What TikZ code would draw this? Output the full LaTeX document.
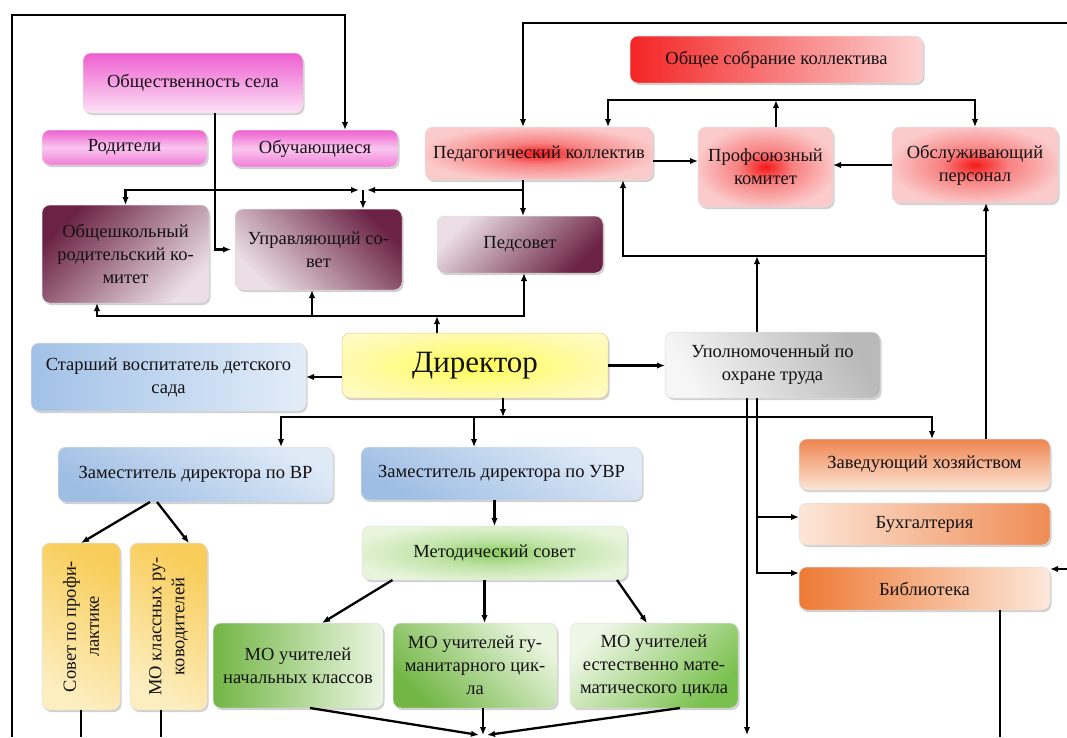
\documentclass[tikz,border=0pt]{standalone}
\usepackage{fontspec}
\setmainfont{Liberation Serif}
\usetikzlibrary{arrows.meta,shadows,calc}
\definecolor{txt}{HTML}{141214}
\definecolor{pkD}{HTML}{EE5FD0}
\definecolor{pkL}{HTML}{FDE2F6}
\definecolor{pkM}{HTML}{F9C6EE}
\definecolor{mrD}{HTML}{6B2244}
\definecolor{mrL}{HTML}{EBDEE4}
\definecolor{rRed}{HTML}{F42424}
\definecolor{rLight}{HTML}{FDD3D3}
\definecolor{rcore}{HTML}{F41818}
\definecolor{rmid}{HTML}{F88080}
\definecolor{rbg}{HTML}{FBCACA}
\definecolor{ycore}{HTML}{FFFF55}
\definecolor{ymid}{HTML}{FFFAA8}
\definecolor{ybg}{HTML}{FFFDE6}
\definecolor{gcore}{HTML}{8CCD5F}
\definecolor{gmid}{HTML}{BFE3A6}
\definecolor{gbg}{HTML}{E8F5DC}
\pgfdeclareradialshading{redglow}{\pgfpoint{0bp}{0bp}}{color(0bp)=(rcore);color(10bp)=(rmid);color(26bp)=(rbg);color(50bp)=(rbg)}
\pgfdeclareradialshading{yellowglow}{\pgfpoint{0bp}{0bp}}{color(0bp)=(ycore);color(22bp)=(ymid);color(45bp)=(ybg);color(50bp)=(ybg)}
\pgfdeclareradialshading{greenglow}{\pgfpoint{0bp}{0bp}}{color(0bp)=(gcore);color(12bp)=(gmid);color(28bp)=(gbg);color(50bp)=(gbg)}
\tikzset{
  box/.style={rounded corners=8pt, align=center, inner sep=2pt, outer sep=0pt,
    font=\fontsize{18.5}{23}\selectfont, text=txt, draw=black!12, line width=0.5pt,
    drop shadow={shadow xshift=1.5pt,shadow yshift=-2pt,opacity=0.3,fill=black!60}},
  pinkA/.style={top color=pkD, bottom color=pkL},
  pinkB/.style={top color=pkD, bottom color=pkD!80!white, middle color=pkM},
  maroonA/.style={top color=mrD, bottom color=mrL, shading angle=45},
  maroonB/.style={top color=mrD, bottom color=mrL, shading angle=-45},
  maroonC/.style={top color=mrL, bottom color=mrD, shading angle=45},
  redL/.style={left color=rRed, right color=rLight},
  redG/.style={shading=redglow},
  dirbox/.style={shading=yellowglow, draw={rgb,255:red,231;green,201;blue,142}},
  blueA/.style={left color={rgb,255:red,162;green,193;blue,231}, right color={rgb,255:red,227;green,237;blue,249}},
  blueB/.style={top color={rgb,255:red,223;green,234;blue,247}, bottom color={rgb,255:red,159;green,190;blue,228}, shading angle=-30},
  grayA/.style={top color={rgb,255:red,185;green,185;blue,185}, bottom color={rgb,255:red,246;green,246;blue,246}, shading angle=-60},
  orA/.style={top color={rgb,255:red,238;green,133;blue,80}, bottom color={rgb,255:red,253;green,229;blue,214}},
  orB/.style={left color={rgb,255:red,253;green,230;blue,216}, right color={rgb,255:red,239;green,140;blue,85}},
  orC/.style={left color={rgb,255:red,238;green,122;blue,53}, right color={rgb,255:red,253;green,232;blue,219}},
  greenG/.style={shading=greenglow},
  grA/.style={left color={rgb,255:red,114;green,182;blue,69}, right color={rgb,255:red,236;green,246;blue,227}},
  grB/.style={top color={rgb,255:red,233;green,245;blue,222}, bottom color={rgb,255:red,114;green,182;blue,69}, shading angle=-45},
  grC/.style={top color={rgb,255:red,238;green,247;blue,230}, bottom color={rgb,255:red,122;green,192;blue,78}, shading angle=45},
  yelA/.style={top color={rgb,255:red,248;green,205;blue,90}, bottom color={rgb,255:red,253;green,238;blue,192}, shading angle=-30},
  vtext/.style={rotate=90, align=center, font=\fontsize{18.5}{23}\selectfont, text=txt, inner sep=0pt},
  conn/.style={line width=2.3pt, black},
  arr/.style={conn, -{Latex[length=8pt,width=6.5pt]}},
  arrboth/.style={conn, {Latex[length=8pt,width=6.5pt]}-{Latex[length=8pt,width=6.5pt]}}
}
\begin{document}
\begin{tikzpicture}[x=1pt,y=-1pt]
\fill[white] (0,0) rectangle (1067,737);
\useasboundingbox (0,0) rectangle (1067,737);
% boxes
\node[box,pinkA,minimum width=220,minimum height=60] (obsh) at (193,83) {Общественность села};
\node[box,pinkB,minimum width=165,minimum height=35] (rod) at (124.5,147.5) {Родители};
\node[box,pinkB,minimum width=166,minimum height=37] (obuch) at (315,148.5) {Обучающиеся};
\node[box,maroonA,minimum width=167,minimum height=98] (okom) at (125.5,254) {Общешкольный\\родительский ко-\\митет};
\node[box,maroonB,minimum width=167,minimum height=81] (usov) at (318.5,249.5) {Управляющий со-\\вет};
\node[box,maroonC,minimum width=166,minimum height=57] (pedsov) at (520,244.5) {Педсовет};
\node[box,redL,minimum width=293,minimum height=47] (sobr) at (776.5,59.5) {Общее собрание коллектива};
\node[box,redG,minimum width=228,minimum height=53] (pedk) at (539,153.5) {Педагогический коллектив};
\node[box,redG,minimum width=135,minimum height=80] (prof) at (765.5,167) {Профсоюзный\\комитет};
\node[box,redG,minimum width=166,minimum height=76] (obsl) at (975,165) {Обслуживающий\\персонал};
\node[box,dirbox,minimum width=266,minimum height=65,font=\fontsize{31}{34}\selectfont] (dir) at (475,365.5) {Директор};
\node[box,blueA,minimum width=275,minimum height=68] (star) at (168.5,377) {Старший воспитатель детского\\сада};
\node[box,grayA,minimum width=215,minimum height=66] (upol) at (772.5,365) {Уполномоченный по\\охране труда};
\node[box,blueB,minimum width=275,minimum height=55] (zvr) at (195.5,474.5) {Заместитель директора по ВР};
\node[box,blueB,minimum width=281,minimum height=53] (zuvr) at (501.5,473.5) {Заместитель директора по УВР};
\node[box,orA,minimum width=251,minimum height=51] (zav) at (924.5,464.5) {Заведующий хозяйством};
\node[box,orB,minimum width=251,minimum height=42] (buh) at (924.5,524) {Бухгалтерия};
\node[box,orC,minimum width=251,minimum height=43] (bib) at (924.5,588.5) {Библиотека};
\node[box,greenG,minimum width=265,minimum height=54] (met) at (494.5,553) {Методический совет};
\node[box,grA,minimum width=170,minimum height=85] (mo1) at (298,665.5) {МО учителей\\начальных классов};
\node[box,grB,minimum width=164,minimum height=85] (mo2) at (475,665.5) {МО учителей гу-\\манитарного цик-\\ла};
\node[box,grC,minimum width=168,minimum height=85] (mo3) at (654,665.5) {МО учителей\\естественно мате-\\матического цикла};
\node[box,yelA,minimum width=78,minimum height=167] (sov) at (81,626.5) {};
\node[vtext] (sovt) at (sov.center) {Совет по профи-\\лактике};
\node[box,yelA,minimum width=77,minimum height=167] (mok) at (168.5,626.5) {};
\node[vtext] (mokt) at (mok.center) {МО классных ру-\\ководителей};
% coordinates
\coordinate (bot) at (0,737);
\coordinate (tl) at (12,15);
\coordinate (bl) at (12,737);
\coordinate (tr) at (1067,23);
\coordinate (J) at (363,190);
\coordinate (L1) at (0,100);
\coordinate (L2) at (0,256);
\coordinate (L3) at (0,316);
\coordinate (L4) at (0,417);
\coordinate (rr) at (1067,569);
\coordinate (conv) at (483,735);
\coordinate (obuchin) at ([xshift=30pt]obuch.north);
\coordinate (obshout) at ([xshift=22pt]obsh.south);
\coordinate (pedkB) at ([xshift=-16pt]pedk.south);
\coordinate (pedkT) at ([xshift=-16pt]pedk.north);
\coordinate (pedkT2) at ([xshift=69pt]pedk.north);
\coordinate (pedkB2) at ([xshift=84pt]pedk.south);
\coordinate (pedkE) at ([yshift=-7.5pt]pedk.east);
\coordinate (profT) at ([xshift=10.5pt]prof.north);
\coordinate (zavT2) at ([xshift=61.5pt]zav.north);
\coordinate (upolT) at ([xshift=-15.5pt]upol.north);
\coordinate (dirT) at ([xshift=-38pt]dir.north);
\coordinate (okomB) at ([xshift=-28.5pt]okom.south);
\coordinate (usovB) at ([xshift=-6.5pt]usov.south);
\coordinate (pedsovB) at ([xshift=4pt]pedsov.south);
\coordinate (dirB) at ([xshift=28pt]dir.south);
\coordinate (zvrT) at ([xshift=85.5pt]zvr.north);
\coordinate (zuvrT) at ([xshift=-27.5pt]zuvr.north);
\coordinate (zavT) at ([xshift=7.5pt]zav.north);
\coordinate (metB1) at ([xshift=-102pt]met.south);
\coordinate (metB2) at ([xshift=-10pt]met.south);
\coordinate (metB3) at ([xshift=122.5pt]met.south);
\coordinate (mo1T) at ([xshift=24pt]mo1.north);
\coordinate (mo3T) at ([xshift=-7pt]mo3.north);
\coordinate (mo1B) at ([xshift=12pt]mo1.south);
\coordinate (mo2B) at ([xshift=8pt]mo2.south);
\coordinate (mo3B) at ([xshift=26pt]mo3.south);
\coordinate (zvrB1) at ([xshift=-45.5pt]zvr.south);
\coordinate (zvrB2) at ([xshift=-38.5pt]zvr.south);
\coordinate (mokT) at ([xshift=20.5pt]mok.north);
\coordinate (mokB) at ([xshift=-7.5pt]mok.south);
\coordinate (upolB1) at ([xshift=-25.5pt]upol.south);
\coordinate (upolB2) at ([xshift=-15.5pt]upol.south);
\coordinate (buhW) at ([yshift=7pt]buh.west);
\coordinate (bibW) at ([yshift=15.5pt]bib.west);
\coordinate (bibE) at ([yshift=19.5pt]bib.east);
\coordinate (bibB) at ([xshift=75.5pt]bib.south);
% connectors
\draw[arr] (bl) -- (tl) -| (obuchin);
\draw[arr] (obshout) |- ([xshift=-4pt]usov.west);
\draw[arrboth] (okom.north) |- ([xshift=-4pt]J);
\draw[arr] (pedkB) |- ([xshift=4pt]J);
\draw[arr] (J) -- (J |- usov.north);
\draw[arr] (pedkB) -- (pedkB |- pedsov.north);
\draw[arr] (tr) -| (pedkT);
\draw[arrboth] (pedkT2) |- (L1 -| obsl.north) -- (obsl.north);
\draw[arr] (profT) -- (profT |- L1);
\draw[arr] (pedkE) -- (pedkE -| prof.west);
\draw[arr] (obsl.west) -- (obsl.west -| prof.east);
\draw[arr] (zavT2) -- (zavT2 |- obsl.south);
\draw[arr] (zavT2 |- L2) -| (pedkB2);
\draw[arr] (upolT) -- (upolT |- L2);
\draw[arr] (dirT) -- (dirT |- L3);
\draw[arrboth] (okomB) |- (L3 -| pedsovB) -- (pedsovB);
\draw[arr] (usovB |- L3) -- (usovB);
\draw[arr] (dir.west |- star.east) -- (star.east);
\draw[arr] (dir.east) -- (dir.east -| upol.west);
\draw[arr] (dirB) -- (dirB |- L4);
\draw[arrboth] (zvrT) |- (L4 -| zavT) -- (zavT);
\draw[arr] (zuvrT |- L4) -- (zuvrT);
\draw[arr] (zuvr.south -| met.north) -- (met.north);
\draw[arr] (metB1) -- (mo1T);
\draw[arr] (metB2) -- (metB2 |- mo2.north);
\draw[arr] (metB3) -- (mo3T);
\draw[arr] (mo1B) -- ([xshift=-4pt]conv);
\draw[arr] (mo2B) -- (conv);
\draw[arr] (mo3B) -- ([xshift=4pt]conv);
\draw[arr] (zvrB1) -- (sov.north);
\draw[arr] (zvrB2) -- (mokT);
\draw[conn] (sov.south) -- (sov.south |- bot);
\draw[conn] (mokB) -- (mokB |- bot);
\draw[arr] (upolB1) -- (upolB1 |- conv);
\draw[arr] (upolB2) |- (bibW);
\draw[arr] (upolB2 |- buhW) -- (buhW);
\draw[arr] (rr) -- (bibE);
\draw[conn] (bibB) -- (bibB |- bot);
\end{tikzpicture}
\end{document}
